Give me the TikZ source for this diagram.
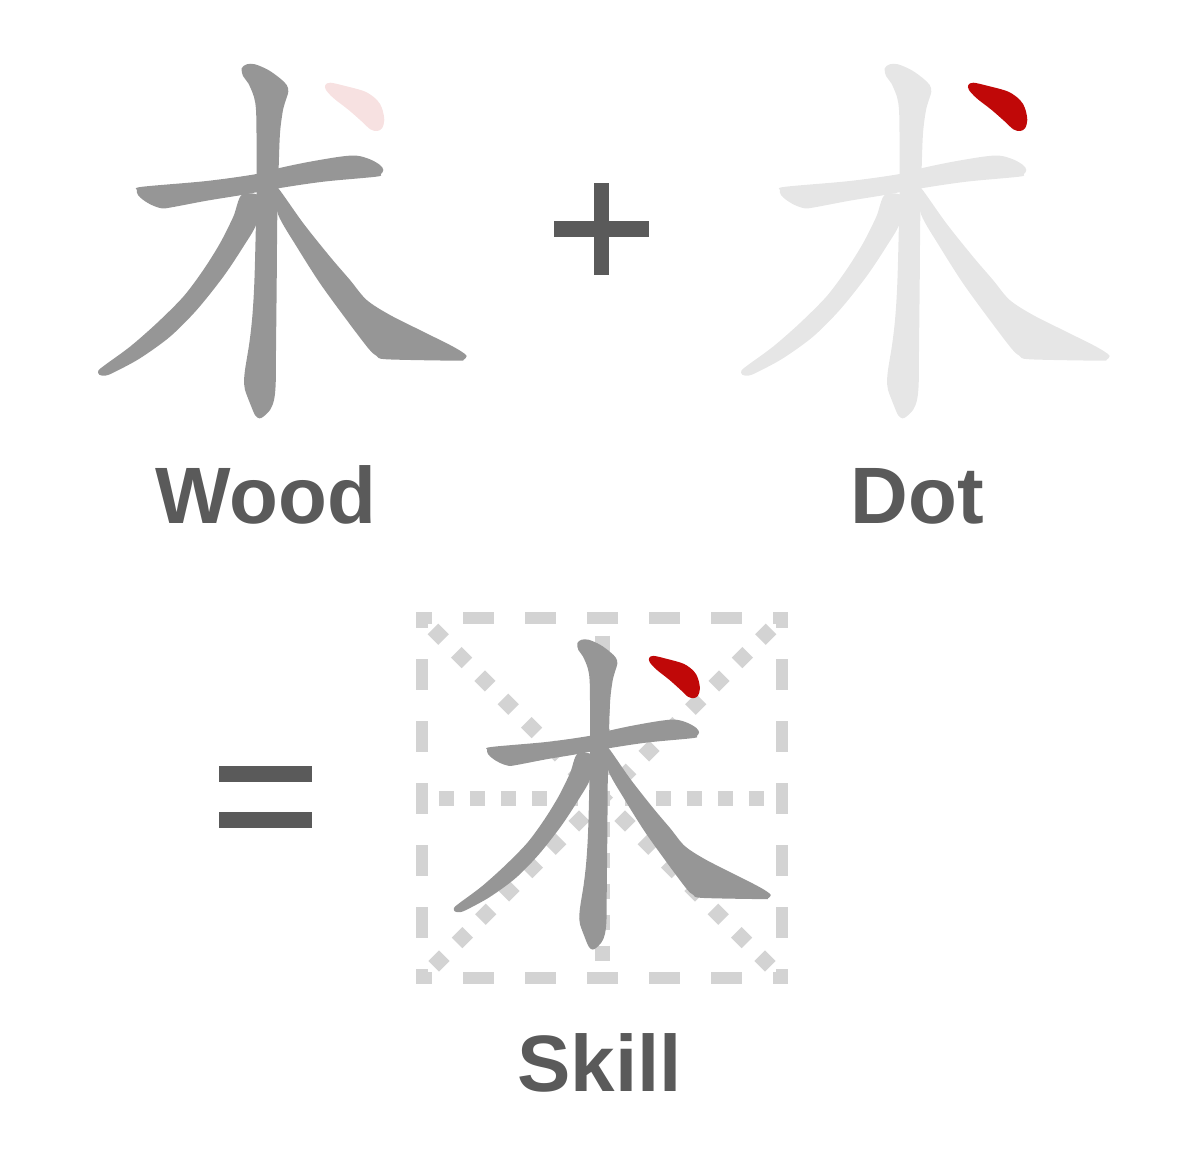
\documentclass[tikz,border=0pt]{standalone}
\usepackage{fontspec}
\setmainfont{Liberation Sans}
\definecolor{strokegray}{HTML}{969696}
\definecolor{lightstroke}{HTML}{E6E6E6}
\definecolor{dotred}{HTML}{C00808}
\definecolor{dotpink}{HTML}{F7E1E1}
\definecolor{gridgray}{HTML}{D3D3D3}
\definecolor{textgray}{HTML}{5A5A5A}
\newcommand{\shuchar}[2]{%
  % heng (horizontal)
  \fill[#1] plot[smooth cycle, tension=0.55] coordinates {
    (142,186.8) (206.7,181) (256.7,174) (278.3,168.3) (306.7,162.3)
    (340,156.7) (356.7,155.7) (370,159.3) (380,165) (383.3,170)
    (380.7,174.3) (376,176.7) (323.3,181.7) (278.3,188.3) (241.7,195)
    (206.7,200.7) (171.7,207.3) (161.7,208.3) (151.7,205) (143.3,200)
    (138,195) (137,190)};
  % shu (vertical)
  \fill[#1] plot[smooth cycle, tension=0.55] coordinates {
    (241.7,68.3) (246.7,64.3) (255,64.3) (268.3,70) (280,78.3)
    (286.7,85) (288.3,91.7) (285.5,101) (282.7,111.7) (280,133.3)
    (278.7,166.7) (277.3,216.7) (276.7,283.3) (276,350) (275.7,383.3)
    (274,400) (270,410) (263.3,416.7) (259.3,418.3) (255,415)
    (250,403.3) (245,390) (244,383.3) (245,370) (249.3,343.3)
    (252.3,316.7) (254.3,283.3) (255.7,233.3) (256.7,183.3) (256.5,133.3)
    (256,110) (254,97) (248.3,83.3) (243,76)};
  % pie (left-falling)
  \fill[#1] plot[smooth cycle, tension=0.5] coordinates {
    (241.7,195) (233.3,216.7) (220,243.3) (203.3,270) (183.3,296.7)
    (156.7,323.3) (130,346.7) (105,365) (98.3,370.7) (99.3,374.7)
    (105,375.7) (113.3,372.7) (140,358.3) (170,336.7) (196.7,310)
    (223.3,276.7) (243.3,246.7) (256.7,223.3) (260,196.7)};
  % na (right-falling)
  \fill[#1] plot[smooth cycle, tension=0.5] coordinates {
    (278.3,188.3) (303.3,223.3) (330,256.7) (350,280) (366.7,300)
    (390,315) (423.3,331.7) (450,345) (461.7,351.7) (466.7,356)
    (463.3,360) (456.7,360.7) (386.7,359.3) (376.7,356) (368.3,348.3)
    (346.7,320) (320,283.3) (296.7,246.7) (278.3,215) (275,190)};
  % dian (dot)
  \fill[#2] plot[smooth cycle, tension=0.55] coordinates {
    (325.3,85) (330.3,82.7) (345.3,86) (365.3,91.7) (377,100)
    (382,108.3) (384.3,120) (382,128.3) (377,131) (370.3,129.3)
    (362,121.7) (348.7,110) (333.7,98.3) (326,90)};
}
\tikzset{
  lbl/.style={font=\fontsize{80}{96}\selectfont\bfseries, text=textgray, inner sep=0pt, anchor=base},
  opbar/.style={fill=textgray},
  boxside/.style={draw=gridgray, line width=12pt, dash pattern=on 31pt off 31pt, dash phase=15pt},
  dotline/.style={draw=gridgray, line width=15pt, dash pattern=on 15pt off 16pt},
  diagline/.style={draw=gridgray, line width=15pt, dash pattern=on 15pt off 18pt},
}
\begin{document}
\begin{tikzpicture}[x=1pt,y=-1pt]
\path[use as bounding box] (0,0) rectangle (1204,1172);

% first character: Wood
\begin{scope}
  \shuchar{strokegray}{dotpink}
\end{scope}
% second character: Dot
\begin{scope}[shift={(643,0)}]
  \shuchar{lightstroke}{dotred}
\end{scope}

% plus
\fill[opbar] (554.3,221) rectangle (649.3,236.7);
\fill[opbar] (594.3,182.7) rectangle (609.3,275.3);
% equals
\fill[opbar] (219.3,766) rectangle (312.3,781.7);
\fill[opbar] (219.3,812.3) rectangle (312.3,827.7);

% grid
\coordinate (g1) at (422,618);
\coordinate (g2) at (782,618);
\coordinate (g3) at (782,978);
\coordinate (g4) at (422,978);
\path[boxside] (416,618) -- (788,618);
\path[boxside] (416,978) -- (788,978);
\path[boxside] (422,612) -- (422,984);
\path[boxside] (782,612) -- (782,984);
\path[dotline] (438.8,798) -- (765.2,798);
\path[dotline] (602,635.5) -- (602,961.5);
\path[diagline] ([shift={(10.96,10.96)}]g1) -- ([shift={(-10.96,-10.96)}]g3);
\path[diagline] ([shift={(-10.96,10.96)}]g2) -- ([shift={(10.96,-10.96)}]g4);

% third character: Skill
\begin{scope}[shift={(369.4,583.5)}, xscale=0.86, yscale=0.875]
  \shuchar{strokegray}{dotred}
\end{scope}

% labels
\node[lbl] (wood) at (265.5,523) {Wood};
\node[lbl] (dot) at (917,523) {Dot};
\node[lbl] (skill) at (599.5,1091.7) {Skill};
\end{tikzpicture}
\end{document}
